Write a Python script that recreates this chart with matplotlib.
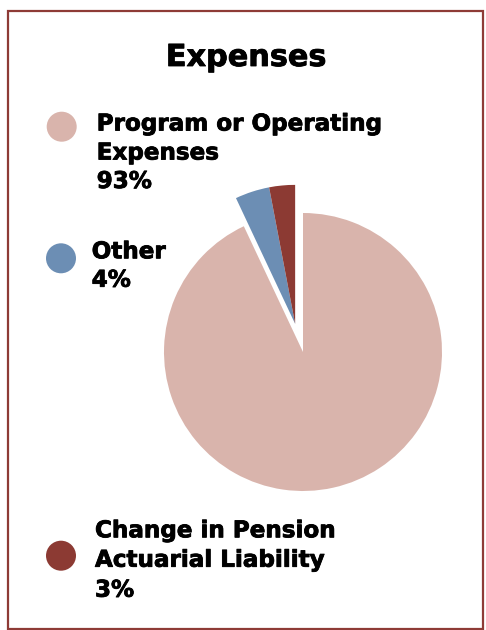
import numpy as np
import matplotlib
matplotlib.use("Agg")
import matplotlib.pyplot as plt
from matplotlib.patches import Rectangle, Ellipse
import matplotlib.patheffects as pe

title = "Expenses"
values = [93, 4, 3]
pct_labels = ["93%", "4%", "3%"]
colors = ["#D9B4AC", "#6C8EB4", "#8C3A33"]
border_color = "#8E3B36"

W, H = 486, 630
fig = plt.figure(figsize=(W / 100, H / 100), dpi=100)
fig.patch.set_facecolor("white")

FONT = dict(family=["DejaVu Sans"], weight="bold", color="black",
            path_effects=[pe.withStroke(linewidth=0.6, foreground="black")])


def px(x, y):
    return x / W, 1 - y / H


# border
fig.patches.append(Rectangle(px(8, 629), 475 / W, 618 / H, transform=fig.transFigure,
                             fill=False, edgecolor=border_color, linewidth=1.6))

# pie axes: center (303, 352), radius 139 px
R = 139.0
cx, cy = 303.0, 352.0
half = 210.0
ax = fig.add_axes([(cx - half) / W, (H - cy - half) / H, 2 * half / W, 2 * half / H])

wedges, _ = ax.pie(values, colors=colors, startangle=90, counterclock=False,
                   radius=1.0, center=(0, 0), wedgeprops=dict(linewidth=0))
ax.set_xlim(-half / R, half / R)
ax.set_ylim(-half / R, half / R)
ax.set_aspect("equal")
ax.axis("off")
# explode the two small slices together as a group
frac = sum(values[1:]) / sum(values)
mid = np.deg2rad(90 + 360 * frac / 2 + 3)
dist = 0.21
for w in wedges[1:]:
    w.set_center((dist * np.cos(mid), dist * np.sin(mid)))

# title
fig.text(*px(246, 66), title, ha="center", va="baseline", fontsize=21.8, **FONT)

# legend entries
fs = 16.6
entries = [
    (61.7, 126.7, 96.7, [130.5, 159.5, 188.0], ["Program or Operating", "Expenses"]),
    (61.0, 258.3, 91.7, [258.3, 286.7], ["Other"]),
    (61.0, 555.7, 95.0, [537.3, 566.7, 596.7], ["Change in Pension", "Actuarial Liability"]),
]
for (mx, my, tx, bases, lines), col, pct in zip(entries, colors, pct_labels):
    fig.patches.append(Ellipse(px(mx, my), 30 / W, 30 / H, transform=fig.transFigure,
                               facecolor=col, edgecolor="none"))
    for b, t in zip(bases, lines + [pct]):
        fig.text(*px(tx, b), t, ha="left", va="baseline", fontsize=fs, **FONT)

fig.savefig("out.png", dpi=100, facecolor="white")
